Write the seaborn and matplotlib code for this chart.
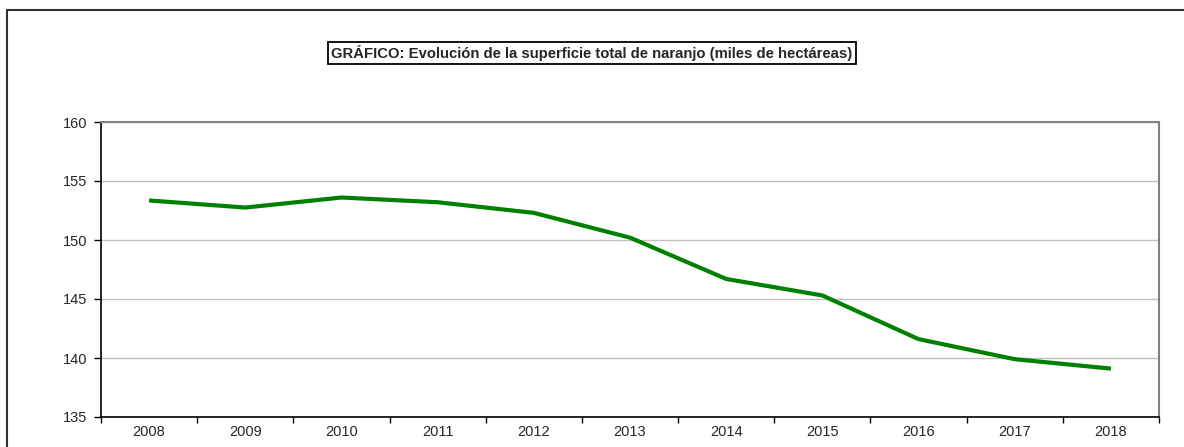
import matplotlib
matplotlib.use("Agg")
import matplotlib.pyplot as plt
from matplotlib.patches import Rectangle
import seaborn as sns
import pandas as pd

# Superficie total de naranjo, miles de hectáreas
years = ["2008", "2009", "2010", "2011", "2012", "2013",
         "2014", "2015", "2016", "2017", "2018"]
surface = [153.35, 152.75, 153.6, 153.2, 152.3, 150.2,
           146.7, 145.3, 141.6, 139.9, 139.1]
y_ticks = [135, 140, 145, 150, 155, 160]
title = "GRÁFICO: Evolución de la superficie total de naranjo (miles de hectáreas)"

sns.set_style("white")
plt.rcParams["font.family"] = ["Liberation Sans", "DejaVu Sans"]

df = pd.DataFrame({"pos": range(len(years)), "year": years, "value": surface})

fig = plt.figure(figsize=(11.84, 4.47), dpi=100)
ax = fig.add_axes([101 / 1184, 30 / 447, 1058 / 1184, 295 / 447])

sns.lineplot(data=df, x="pos", y="value", ax=ax, color="#008000",
             linewidth=3.0, solid_joinstyle="miter", solid_capstyle="butt")

ax.set_xlim(-0.5, len(years) - 0.5)
ax.set_ylim(y_ticks[0], y_ticks[-1])
ax.set_yticks(y_ticks)
ax.set_yticklabels([str(t) for t in y_ticks])

# Category axis: ticks on boundaries, labels centred in each category
ax.set_xticks([i - 0.5 for i in range(len(years) + 1)])
ax.set_xticklabels([])
ax.set_xticks(range(len(years)), minor=True)
ax.set_xticklabels(years, minor=True)
ax.tick_params(axis="x", which="major", direction="out", length=4,
               width=1, color="black", bottom=True)
ax.tick_params(axis="x", which="minor", length=0, pad=6, labelsize=10.5)
ax.tick_params(axis="y", direction="out", length=5, width=1, color="black",
               left=True, pad=5, labelsize=10.5)

ax.set_xlabel("")
ax.set_ylabel("")
ax.yaxis.grid(True, color="#c0c0c0", linewidth=1)
ax.xaxis.grid(False)
ax.set_axisbelow(True)

for side in ("left", "bottom"):
    ax.spines[side].set_color("black")
    ax.spines[side].set_linewidth(1.2)
for side in ("top", "right"):
    ax.spines[side].set_visible(True)
    ax.spines[side].set_color("#808080")
    ax.spines[side].set_linewidth(1.5)

# Outer chart border
fig.patches.append(Rectangle((7 / 1184, -0.1), 1.2, 1 - 10 / 447 + 0.1,
                             transform=fig.transFigure, fill=False,
                             edgecolor="#303030", linewidth=1.5,
                             clip_on=False))

fig.text(0.5, 1 - 53 / 447, title, ha="center", va="center",
         fontsize=10.7, fontweight="bold",
         bbox=dict(boxstyle="square,pad=0.22", facecolor="white",
                   edgecolor="black", linewidth=1.3))

fig.savefig("out.png", dpi=100)
